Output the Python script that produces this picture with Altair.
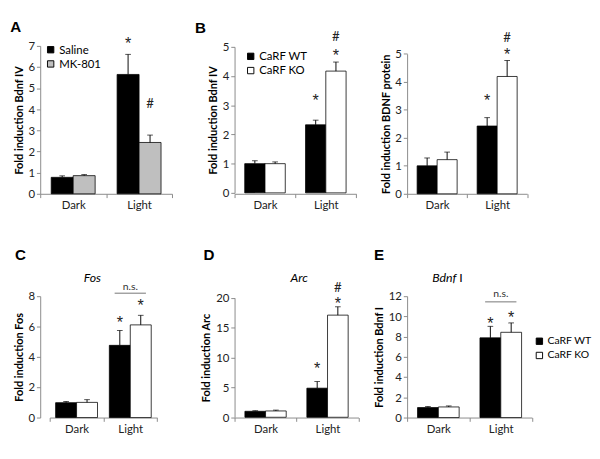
import altair as alt
import pandas as pd

FONT = "Lato"
categories = ["Dark", "Light"]

# ---- Panel A : Bdnf IV, saline vs MK-801
a_groups = ["Saline", "MK-801"]
a_saline = [0.78, 5.65]
a_saline_top = [0.85, 6.60]
a_mk801 = [0.86, 2.43]
a_mk801_top = [0.91, 2.78]
a_marks = [("Light", "Saline", 7.3, "*"), ("Light", "MK-801", 4.3, "#")]

carf_groups = ["CaRF WT", "CaRF KO"]
# ---- Panel B left : Bdnf IV mRNA
b1_wt = [1.00, 2.33]
b1_wt_top = [1.10, 2.49]
b1_ko = [1.00, 4.17]
b1_ko_top = [1.06, 4.48]
b1_marks = [("Light", "CaRF WT", 3.3, "*"), ("Light", "CaRF KO", 4.85, "*"), ("Light", "CaRF KO", 5.36, "#")]
# ---- Panel B right : BDNF protein
b2_wt = [1.00, 2.42]
b2_wt_top = [1.28, 2.72]
b2_ko = [1.22, 4.19]
b2_ko_top = [1.49, 4.76]
b2_marks = [("Light", "CaRF WT", 3.48, "*"), ("Light", "CaRF KO", 5.1, "*"), ("Light", "CaRF KO", 5.6, "#")]
# ---- Panel C : Fos
c_wt = [0.98, 4.76]
c_wt_top = [1.06, 5.74]
c_ko = [1.00, 6.11]
c_ko_top = [1.18, 6.74]
c_marks = [("Light", "CaRF WT", 6.5, "*"), ("Light", "CaRF KO", 7.67, "*")]
c_ns = [("Light", 8.2, 8.57)]
# ---- Panel D : Arc
d_wt = [1.00, 4.87]
d_wt_top = [1.10, 5.98]
d_ko = [1.06, 17.1]
d_ko_top = [1.20, 18.5]
d_marks = [("Light", "CaRF WT", 8.9, "*"), ("Light", "CaRF KO", 19.7, "*"), ("Light", "CaRF KO", 21.7, "#")]
# ---- Panel E : Bdnf I
e_wt = [0.99, 7.88]
e_wt_top = [1.09, 9.02]
e_ko = [1.05, 8.43]
e_ko_top = [1.15, 9.36]
e_marks = [("Light", "CaRF WT", 9.7, "*"), ("Light", "CaRF KO", 10.3, "*")]
e_ns = [("Light", 11.44, 12.16)]

a_colors = ["#000000", "#bfbfbf"]
carf_colors = ["#000000", "#ffffff"]


def legend_at(lx, ly, fs=12):
    return alt.Legend(orient="none", legendX=lx, legendY=ly, title=None,
                      symbolType="square", symbolSize=45, symbolStrokeColor="black",
                      symbolStrokeWidth=1, labelFont=FONT, labelFontSize=fs,
                      labelColor="black", rowPadding=3, labelOffset=3)


def panel(groups, colors, vals, tops, marks, ymax, yticks, ytitle, width, height,
          xrange, yrange, fill_frac, legend=None, ns=None, letter=None, genes=None):
    rows = []
    for g, v, t in zip(groups, vals, tops):
        for c, m, tp in zip(categories, v, t):
            rows.append({"cat": c, "grp": g, "mean": m, "top": tp})
    df = pd.DataFrame(rows)
    ann = pd.DataFrame([{"cat": c, "grp": g, "y": y, "t": s} for c, g, y, s in marks])
    pad = (2.0 / fill_frac - 2.0) / 2.0
    xs = alt.Scale(domain=categories, paddingInner=0, paddingOuter=0, range=xrange)
    xos = alt.Scale(domain=groups, paddingInner=0, paddingOuter=pad)
    ys = alt.Scale(domain=[0, ymax], nice=False, zero=True, range=yrange)
    xax = alt.Axis(tickBand="extent", labelAngle=0, title=None)
    yax = alt.Axis(values=yticks, title=ytitle)

    def X():
        return alt.X("cat:N", sort=categories, scale=xs, axis=xax)

    def XO():
        return alt.XOffset("grp:N", sort=groups, scale=xos)

    def Y(f):
        return alt.Y(f, scale=ys, axis=yax)

    bars = alt.Chart(df).mark_bar(stroke="black", strokeWidth=0.8).encode(
        x=X(), xOffset=XO(), y=Y("mean:Q"),
        fill=alt.Fill("grp:N", sort=groups, scale=alt.Scale(domain=groups, range=colors),
                      legend=legend),
    )
    whisk = alt.Chart(df).mark_rule(color="black", strokeWidth=1).encode(
        x=X(), xOffset=XO(), y=Y("mean:Q"), y2="top:Q")
    caps = alt.Chart(df).mark_tick(orient="horizontal", size=6, thickness=1, color="black").encode(
        x=X(), xOffset=XO(), y=Y("top:Q"))
    layers = [bars, whisk, caps]
    star = alt.Chart(ann).transform_filter(alt.datum.t == "*").mark_text(
        font="Liberation Sans", fontSize=17, baseline="alphabetic", dy=10, color="#222").encode(
        x=X(), xOffset=XO(), y=Y("y:Q"), text="t:N")
    hsh = alt.Chart(ann).transform_filter(alt.datum.t == "#").mark_text(
        font=FONT, fontSize=14, baseline="alphabetic", dy=5, color="#222").encode(
        x=X(), xOffset=XO(), y=Y("y:Q"), text="t:N")
    layers += [star, hsh]
    if ns:
        nsdf = pd.DataFrame([{"cat": c, "line": l, "txt": t, "lab": "n.s."} for c, l, t in ns])
        layers.append(alt.Chart(nsdf).mark_tick(orient="horizontal", size=33, thickness=1,
                                                color="#333").encode(
            x=X(), y=Y("line:Q")))
        layers.append(alt.Chart(nsdf).mark_text(font=FONT, fontSize=11, baseline="middle",
                                                color="#333").encode(
            x=X(), y=Y("txt:Q"), text="lab:N"))
    if letter:
        t, lx, ly = letter
        layers.append(alt.Chart(pd.DataFrame({"k": [t]})).mark_text(
            font="Liberation Sans", fontSize=16, fontWeight="bold", align="left",
            baseline="alphabetic", color="black").encode(
            x=alt.value(lx), y=alt.value(ly), text="k:N"))
    if genes:
        for t, gx, gy, al, st in genes:
            layers.append(alt.Chart(pd.DataFrame({"k": [t]})).mark_text(
                font=FONT, fontSize=13, fontStyle=st, align=al,
                baseline="alphabetic", color="black").encode(
                x=alt.value(gx), y=alt.value(gy), text="k:N"))
    return alt.layer(*layers).properties(width=width, height=height)


pA = panel(a_groups, a_colors, [a_saline, a_mk801], [a_saline_top, a_mk801_top], a_marks,
           7, [0, 1, 2, 3, 4, 5, 6, 7], "Fold induction Bdnf IV", 159, 156,
           [0, 139], [156, 0], 2 / 3, legend=legend_at(5, -2), letter=("A", -31.7, -15))
pB1 = panel(carf_groups, carf_colors, [b1_wt, b1_ko], [b1_wt_top, b1_ko_top], b1_marks,
            5, [0, 1, 2, 3, 4, 5], "Fold induction Bdnf IV", 129, 156,
            [0, 128.3], [155, 1], 2 / 3, legend=legend_at(11, 5), letter=("B", -41.7, -14))
pB2 = panel(carf_groups, carf_colors, [b2_wt, b2_ko], [b2_wt_top, b2_ko_top], b2_marks,
            5, [0, 1, 2, 3, 4, 5], "Fold induction BDNF protein", 126.6, 156,
            [0, 126.6], [156, 8.3], 2 / 3)
pC = panel(carf_groups, carf_colors, [c_wt, c_ko], [c_wt_top, c_ko_top], c_marks,
           8, [0, 2, 4, 6, 8], "Fold induction Fos", 133.3, 128,
           [10, 123.3], [128, 0], 0.78, ns=c_ns, letter=("C", -26.7, -38),
           genes=[("Fos", 55, -15, "center", "italic")])
pD = panel(carf_groups, carf_colors, [d_wt, d_ko], [d_wt_top, d_ko_top], d_marks,
           20, [0, 5, 10, 15, 20], "Fold induction Arc", 135.3, 128,
           [0, 130.7], [127.7, 1.7], 2 / 3, letter=("D", -32.7, -38),
           genes=[("Arc", 68, -15, "center", "italic")])
pE = panel(carf_groups, carf_colors, [e_wt, e_ko], [e_wt_top, e_ko_top], e_marks,
           12, [0, 2, 4, 6, 8, 10, 12], "Fold induction Bdnf I", 131.7, 128,
           [0, 131.7], [128, 0], 2 / 3, legend=legend_at(134, 42, 11), ns=e_ns,
           letter=("E", -35, -38),
           genes=[("Bdnf", 52, -15, "right", "italic"), ("I", 55, -15, "left", "normal")])

chart = alt.concat(pA, pB1, pB2, pC, pD, pE, columns=3, spacing={"row": 108, "column": 46},
                   bounds="flush", align="none").resolve_scale(
    fill="independent", x="independent", y="independent", xOffset="independent"
).resolve_legend(fill="independent").properties(
    padding={"left": 2, "top": 0, "right": 0, "bottom": 0}
).configure_view(stroke=None).configure_axis(
    grid=False, domainColor="#868686", tickColor="#868686", tickSize=4,
    labelFont=FONT, labelFontSize=12, labelColor="#222", labelPadding=2,
    titleFont=FONT, titleFontSize=11.5, titleFontWeight="bold", titleColor="black"
).configure_axisX(labelPadding=3, labelFontSize=12)

chart.save("out.html", embed_options={"renderer": "svg", "actions": False})
